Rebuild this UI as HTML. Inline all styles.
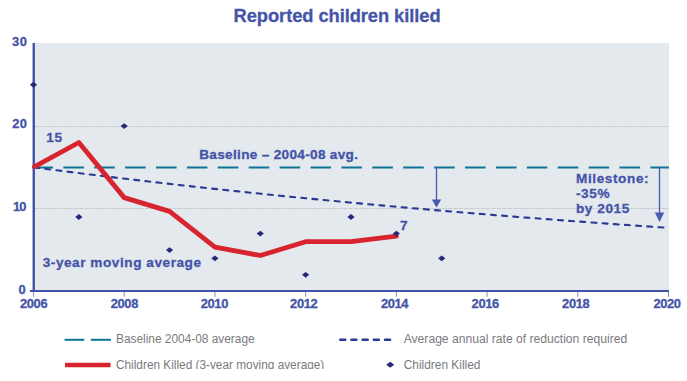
<!DOCTYPE html>
<html><head><meta charset="utf-8"><style>
html,body{margin:0;padding:0;background:#fff;width:687px;height:381px;overflow:hidden}
svg{display:block}
text{font-family:"Liberation Sans",sans-serif}
.ax{font-size:12.9px;font-weight:bold;fill:#4454a8;stroke:#4454a8;stroke-width:0.3px}
.title{font-size:18.3px;font-weight:bold;fill:#4454a8;stroke:#4454a8;stroke-width:0.3px}
.ann{font-size:13.6px;font-weight:bold;fill:#4454a8;stroke:#4454a8;stroke-width:0.3px}
.leg{font-size:13.7px;fill:#797a7e}
</style></head><body>
<svg width="687" height="381" viewBox="0 0 687 381">
<defs><clipPath id="lc"><rect x="0" y="300" width="687" height="69"/></clipPath></defs>
<rect x="35" y="43" width="634" height="247" fill="#e4e9ee"/>
<line x1="35" x2="669" y1="126.5" y2="126.5" stroke="#c9cbce" stroke-width="1" stroke-dasharray="4.6 0.9"/>
<line x1="35" x2="669" y1="208.5" y2="208.5" stroke="#c9cbce" stroke-width="1" stroke-dasharray="4.6 0.9"/>
<line x1="32.4" x2="669" y1="167.5" y2="167.5" stroke="#0f7597" stroke-width="2.2" stroke-dasharray="20.6 10.3"/>
<polyline points="33.50,167.30 39.82,168.12 46.14,168.94 52.46,169.76 58.78,170.56 65.10,171.37 71.42,172.16 77.74,172.96 84.06,173.74 90.38,174.52 96.70,175.30 103.02,176.07 109.34,176.84 115.66,177.60 121.98,178.35 128.30,179.10 134.62,179.85 140.94,180.59 147.26,181.33 153.58,182.06 159.90,182.78 166.22,183.51 172.54,184.22 178.86,184.93 185.18,185.64 191.50,186.34 197.82,187.04 204.14,187.73 210.46,188.42 216.78,189.11 223.10,189.79 229.42,190.46 235.74,191.13 242.06,191.80 248.38,192.46 254.70,193.11 261.02,193.77 267.34,194.42 273.66,195.06 279.98,195.70 286.30,196.34 292.62,196.97 298.94,197.59 305.26,198.22 311.58,198.83 317.90,199.45 324.22,200.06 330.54,200.67 336.86,201.27 343.18,201.87 349.50,202.46 355.82,203.05 362.14,203.64 368.46,204.22 374.78,204.80 381.10,205.38 387.42,205.95 393.74,206.51 400.06,207.08 406.38,207.64 412.70,208.19 419.02,208.75 425.34,209.29 431.66,209.84 437.98,210.38 444.30,210.92 450.62,211.45 456.94,211.98 463.26,212.51 469.58,213.04 475.90,213.56 482.22,214.07 488.54,214.59 494.86,215.10 501.18,215.60 507.50,216.11 513.82,216.61 520.14,217.10 526.46,217.60 532.78,218.08 539.10,218.57 545.42,219.06 551.74,219.54 558.06,220.01 564.38,220.49 570.70,220.96 577.02,221.42 583.34,221.89 589.66,222.35 595.98,222.81 602.30,223.26 608.62,223.72 614.94,224.17 621.26,224.61 627.58,225.06 633.90,225.50 640.22,225.93 646.54,226.37 652.86,226.80 659.18,227.23 665.50,227.65" fill="none" stroke="#283a94" stroke-width="2.1" stroke-linecap="round" stroke-dasharray="5 6.2" stroke-dashoffset="-0.7"/>
<line x1="436.5" x2="436.5" y1="167.5" y2="201" stroke="#4a5aad" stroke-width="1.3"/>
<polygon points="431.8,199.5 441.2,199.5 436.5,207.5" fill="#4a5aad"/>
<line x1="659.5" x2="659.5" y1="167.5" y2="214" stroke="#4a5aad" stroke-width="1.3"/>
<polygon points="654.8,212.5 664.2,212.5 659.5,222" fill="#4a5aad"/>
<line x1="33.75" x2="33.75" y1="43" y2="292" stroke="#4251a8" stroke-width="2.4"/>
<line x1="30" x2="669" y1="291" y2="291" stroke="#4251a8" stroke-width="2"/>
<line x1="33.50" x2="33.50" y1="292" y2="296.8" stroke="#4251a8" stroke-width="1" opacity="0.65"/>
<line x1="124.21" x2="124.21" y1="292" y2="296.8" stroke="#4251a8" stroke-width="1" opacity="0.65"/>
<line x1="214.93" x2="214.93" y1="292" y2="296.8" stroke="#4251a8" stroke-width="1" opacity="0.65"/>
<line x1="305.64" x2="305.64" y1="292" y2="296.8" stroke="#4251a8" stroke-width="1" opacity="0.65"/>
<line x1="396.36" x2="396.36" y1="292" y2="296.8" stroke="#4251a8" stroke-width="1" opacity="0.65"/>
<line x1="487.07" x2="487.07" y1="292" y2="296.8" stroke="#4251a8" stroke-width="1" opacity="0.65"/>
<line x1="577.78" x2="577.78" y1="292" y2="296.8" stroke="#4251a8" stroke-width="1" opacity="0.65"/>
<line x1="668.50" x2="668.50" y1="292" y2="296.8" stroke="#4251a8" stroke-width="1" opacity="0.65"/>
<polyline points="34.60,166.70 78.86,142.50 124.21,197.61 169.57,211.39 214.93,247.21 260.28,255.48 305.64,241.70 351.00,241.70 396.36,236.19" fill="none" stroke="#d8242f" stroke-width="4.8" stroke-linejoin="round" stroke-linecap="round"/>
<polygon points="29.90,84.73 33.50,81.83 37.10,84.73 33.50,87.63" fill="#27287a"/>
<polygon points="75.26,217.00 78.86,214.10 82.46,217.00 78.86,219.90" fill="#27287a"/>
<polygon points="120.61,126.07 124.21,123.17 127.81,126.07 124.21,128.97" fill="#27287a"/>
<polygon points="165.97,250.07 169.57,247.17 173.17,250.07 169.57,252.97" fill="#27287a"/>
<polygon points="211.33,258.33 214.93,255.43 218.53,258.33 214.93,261.23" fill="#27287a"/>
<polygon points="256.68,233.53 260.28,230.63 263.88,233.53 260.28,236.43" fill="#27287a"/>
<polygon points="302.04,274.87 305.64,271.97 309.24,274.87 305.64,277.77" fill="#27287a"/>
<polygon points="347.40,217.00 351.00,214.10 354.60,217.00 351.00,219.90" fill="#27287a"/>
<polygon points="392.76,233.53 396.36,230.63 399.96,233.53 396.36,236.43" fill="#27287a"/>
<polygon points="438.11,258.33 441.71,255.43 445.31,258.33 441.71,261.23" fill="#27287a"/>
<text x="25.6" y="293.60" text-anchor="end" class="ax" textLength="7.4">0</text>
<text x="26.4" y="210.93" text-anchor="end" class="ax" textLength="13.4">10</text>
<text x="27" y="128.27" text-anchor="end" class="ax" textLength="14.8">20</text>
<text x="27" y="45.60" text-anchor="end" class="ax" textLength="15">30</text>
<text x="33.80" y="307.8" text-anchor="middle" class="ax" textLength="27.6">2006</text>
<text x="124.50" y="307.8" text-anchor="middle" class="ax" textLength="27.6">2008</text>
<text x="214.50" y="307.8" text-anchor="middle" class="ax" textLength="27.6">2010</text>
<text x="303.90" y="307.8" text-anchor="middle" class="ax" textLength="27.6">2012</text>
<text x="394.70" y="307.8" text-anchor="middle" class="ax" textLength="27.6">2014</text>
<text x="485.40" y="307.8" text-anchor="middle" class="ax" textLength="27.6">2016</text>
<text x="575.90" y="307.8" text-anchor="middle" class="ax" textLength="27.6">2018</text>
<text x="667.20" y="307.8" text-anchor="middle" class="ax" textLength="27.6">2020</text>
<text x="233.6" y="22" class="title" textLength="207" lengthAdjust="spacing">Reported children killed</text>
<text x="46.3" y="141.8" class="ann" textLength="15.8">15</text>
<text x="400" y="229.5" class="ann">7</text>
<text x="199.2" y="159.1" class="ann" textLength="158.8">Baseline – 2004-08 avg.</text>
<text x="42.7" y="267.3" class="ann" textLength="158.3">3-year moving average</text>
<text x="576" y="182.8" class="ann" textLength="72.6">Milestone:</text>
<text x="576" y="197.5" class="ann" textLength="33.5">-35%</text>
<text x="576" y="212.6" class="ann" textLength="53.2">by 2015</text>
<line x1="64.6" x2="84.3" y1="339.8" y2="339.8" stroke="#0f7597" stroke-width="2"/>
<line x1="90.8" x2="110.9" y1="339.8" y2="339.8" stroke="#0f7597" stroke-width="2"/>
<line x1="65" x2="110.5" y1="365" y2="365" stroke="#d8242f" stroke-width="4.5"/>
<line x1="340.25" x2="345.25" y1="339.7" y2="339.7" stroke="#283a94" stroke-width="2.5" stroke-linecap="round"/>
<line x1="351.45" x2="356.45" y1="339.7" y2="339.7" stroke="#283a94" stroke-width="2.5" stroke-linecap="round"/>
<line x1="362.65" x2="367.65" y1="339.7" y2="339.7" stroke="#283a94" stroke-width="2.5" stroke-linecap="round"/>
<line x1="373.85" x2="378.85" y1="339.7" y2="339.7" stroke="#283a94" stroke-width="2.5" stroke-linecap="round"/>
<line x1="385.05" x2="390.05" y1="339.7" y2="339.7" stroke="#283a94" stroke-width="2.5" stroke-linecap="round"/>
<polygon points="386.2,364.8 390.2,361.8 394.2,364.8 390.2,367.8" fill="#27287a"/>
<g clip-path="url(#lc)">
<text x="116" y="343" class="leg" textLength="138.6" lengthAdjust="spacingAndGlyphs">Baseline 2004-08 average</text>
<text x="403.7" y="343" class="leg" textLength="223.5" lengthAdjust="spacingAndGlyphs">Average annual rate of reduction required</text>
<text x="116" y="368.8" class="leg" textLength="208.3" lengthAdjust="spacingAndGlyphs">Children Killed (3-year moving average)</text>
<text x="403.7" y="368.8" class="leg" textLength="76.8" lengthAdjust="spacingAndGlyphs">Children Killed</text>
</g>
</svg>
</body></html>
